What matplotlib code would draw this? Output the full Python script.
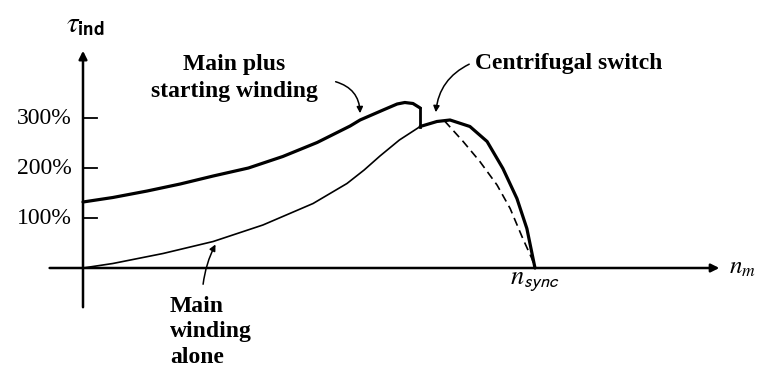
import matplotlib.pyplot as plt

plt.rcParams['font.family'] = ['Liberation Serif', 'DejaVu Serif']
plt.rcParams['mathtext.fontset'] = 'stix'

# speed as a fraction of n_sync, torque in percent of rated
main_start_n = [0.0, 0.066, 0.142, 0.215, 0.288, 0.366, 0.442, 0.518, 0.591, 0.613,
                0.664, 0.695, 0.712, 0.730, 0.746]
main_start_tau = [132, 141, 154, 168, 184, 200, 223, 251, 284, 296,
                  316, 328, 331, 329, 320]

main_alone_n = [0.0, 0.066, 0.177, 0.288, 0.398, 0.509, 0.584, 0.622, 0.657, 0.700, 0.746]
main_alone_tau = [0, 9, 29, 53, 86, 129, 169, 196, 224, 256, 283]

after_switch_n = [0.746, 0.783, 0.812, 0.856, 0.894, 0.929, 0.960, 0.982, 1.0]
after_switch_tau = [283, 293, 296, 283, 253, 199, 139, 79, 0]

dashed_n = [0.800, 0.841, 0.878, 0.916, 0.945, 0.973, 0.993, 1.0]
dashed_tau = [294, 253, 213, 166, 119, 59, 19, 0]

switch_n = 0.746
tick_values = [100, 200, 300]
tick_labels = ['100%', '200%', '300%']

fig = plt.figure(figsize=(7.59, 3.71), dpi=100)
ax = fig.add_axes([0, 0, 1, 1])
ax.set_xlim(-83 / 452, 676 / 452)
ax.set_ylim(-206, 536)
ax.axis('off')

# axes with arrow heads
ax.annotate('', xy=(1.414, 0), xytext=(-0.08, 0),
            arrowprops=dict(arrowstyle='-|>', lw=1.8, color='k', mutation_scale=12))
ax.annotate('', xy=(0, 440), xytext=(0, -84),
            arrowprops=dict(arrowstyle='-|>', lw=1.8, color='k', mutation_scale=12))

for v, lab in zip(tick_values, tick_labels):
    ax.plot([0, 0.03], [v, v], color='k', lw=1.3)
    ax.text(-0.025, v, lab, ha='right', va='center', fontsize=17)

# torque-speed curves
curve = dict(color='k', solid_joinstyle='round', solid_capstyle='round')
ax.plot(main_start_n, main_start_tau, lw=2.3, **curve)
ax.plot(main_alone_n, main_alone_tau, lw=1.2, **curve)
ax.plot(after_switch_n, after_switch_tau, lw=2.3, **curve)
ax.plot(dashed_n, dashed_tau, color='k', lw=1.2, ls=(0, (5, 3)))
ax.plot([switch_n, switch_n], [after_switch_tau[0], main_start_tau[-1]], color='k', lw=2.0)

# axis labels
ax.text(-0.037, 486, r'$\tau_{\mathbf{\mathsf{ind}}}$', fontsize=21, ha='left', va='center')
ax.text(1.430, 0, r'$n_m$', fontsize=18, ha='left', va='center')
ax.text(1.0, -6, r'$n_{\mathsf{sync}}$', fontsize=19, ha='center', va='top')

# annotations
ax.text(0.334, 380, 'Main plus\nstarting winding', fontsize=17, fontweight='bold',
        ha='center', va='center', linespacing=1.4)
ax.annotate('', xy=(0.613, 304), xytext=(0.553, 374),
            arrowprops=dict(arrowstyle='-|>', lw=1.1, color='k', mutation_scale=9,
                            connectionstyle='arc3,rad=-0.4'))

ax.text(0.867, 410, 'Centrifugal switch', fontsize=17, fontweight='bold',
        ha='left', va='center')
ax.annotate('', xy=(0.780, 306), xytext=(0.860, 410),
            arrowprops=dict(arrowstyle='-|>', lw=1.1, color='k', mutation_scale=9,
                            connectionstyle='arc3,rad=0.3'))

ax.text(0.192, -128, 'Main\nwinding\nalone', fontsize=17, fontweight='bold',
        ha='left', va='center', linespacing=1.3)
ax.annotate('', xy=(0.296, 52), xytext=(0.265, -38),
            arrowprops=dict(arrowstyle='-|>', lw=1.1, color='k', mutation_scale=9,
                            connectionstyle='arc3,rad=-0.1'))

fig.savefig('out.png', dpi=100)
